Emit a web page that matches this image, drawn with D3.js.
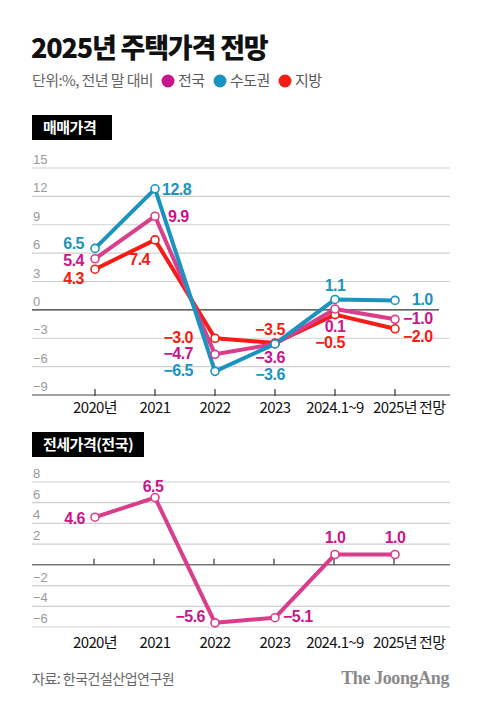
<!DOCTYPE html>
<html>
<head>
<meta charset="utf-8">
<script src="https://cdn.jsdelivr.net/npm/d3@7"></script>
<style>
  body { margin: 0; background: #fff; }
  svg { display: block; }
  text { font-family: "Liberation Sans", "Noto Sans CJK KR", sans-serif; }
  .kr { font-family: "Noto Sans CJK KR", sans-serif; }
  .serif { font-family: "Liberation Serif", "DejaVu Serif", serif; }
</style>
</head>
<body>
<svg id="chart" width="480" height="706"></svg>
<script>
// ---------- data ----------
const categories = ["2020년", "2021", "2022", "2023", "2024.1~9", "2025년 전망"];
const seriesNames = ["전국", "수도권", "지방"];
const saleNational = [5.4, 9.9, -4.7, -3.6, 0.1, -1.0];
const saleCapital  = [6.5, 12.8, -6.5, -3.6, 1.1, 1.0];
const saleLocal    = [4.3, 7.4, -3.0, -3.5, -0.5, -2.0];
const jeonseNational = [4.6, 6.5, -5.6, -5.1, 1.0, 1.0];
const topTicks = [-9, -6, -3, 0, 3, 6, 9, 12, 15];
const bottomTicks = [-6, -4, -2, 0, 2, 4, 6, 8];

// ---------- styling / label placement (not data) ----------
const colors = {
  nationalLine: "#d93d8b", nationalText: "#c8168c",
  capital: "#1a93bf", local: "#f41c14"
};
// [anchor, dx, dy] per point
const placeNational = [["end",-11,7],["start",13,6],["end",-22,5],["middle",-5,19],["middle",0,23],["start",8,5]];
const placeCapital  = [["end",-11,1],["start",7,6],["end",-22,5],["middle",-5,36],["middle",0,-8],["start",17,5]];
const placeLocal    = [["end",-11,15],["end",-5,25],["end",-22,5],["middle",-5,-8],["middle",-5,33],["start",8,13]];
const placeJeonse   = [["end",-10,7],["middle",-2,-6],["end",-10,-1],["start",8,4],["middle",0,-12],["middle",0,-12]];

const fmt = v => (v < 0 ? "\u2212" + Math.abs(v).toFixed(1) : v.toFixed(1));
const fmtTick = v => (v < 0 ? "\u2212" + Math.abs(v) : String(v));

const svg = d3.select("#chart");

// ---------- header ----------
svg.append("text").attr("class", "kr").attr("x", 31).attr("y", 58)
  .attr("font-size", 27).attr("font-weight", 900).attr("letter-spacing", -1.2)
  .attr("fill", "#111").text("2025년 주택가격 전망");

svg.append("text").attr("class", "kr").attr("x", 32).attr("y", 86)
  .attr("font-size", 15).attr("fill", "#666").attr("letter-spacing", -0.6)
  .text("단위:%, 전년 말 대비");

const legendItems = [
  {name: seriesNames[0], color: colors.nationalText, x: 168},
  {name: seriesNames[1], color: colors.capital, x: 220},
  {name: seriesNames[2], color: colors.local, x: 285}
];
const lg = svg.append("g");
legendItems.forEach(d => {
  lg.append("circle").attr("cx", d.x).attr("cy", 81).attr("r", 6.5).attr("fill", d.color);
  lg.append("text").attr("class", "kr").attr("x", d.x + 10).attr("y", 86)
    .attr("font-size", 15).attr("fill", "#5a5a5a").attr("letter-spacing", -0.6).text(d.name);
});

function sectionLabel(txt, y, w) {
  svg.append("rect").attr("x", 32).attr("y", y).attr("width", w).attr("height", 25).attr("fill", "#000");
  svg.append("text").attr("class", "kr").attr("x", 43).attr("y", y + 18)
    .attr("font-size", 15).attr("font-weight", 700).attr("fill", "#fff").attr("letter-spacing", -0.5).text(txt);
}
sectionLabel("매매가격", 115, 80);
sectionLabel("전세가격(전국)", 432, 112);

// ---------- scales ----------
const x = d3.scalePoint().domain(categories).range([95, 395]);
const yTop = d3.scaleLinear().domain([-9, 15]).range([395, 168]);
const yBot = d3.scaleLinear().domain([-6, 8]).range([627, 482]);

function xLabels(yPos) {
  const g = svg.append("g");
  categories.forEach((c, i) => {
    if (c === "2025년 전망") {
      const t1 = g.append("text").attr("class", "kr").attr("x", x(c)).attr("y", yPos)
        .attr("text-anchor", "middle").attr("font-size", 15).attr("fill", "#111")
        .attr("letter-spacing", -0.6).text("2025년");
      const w = t1.node().getComputedTextLength();
      g.append("text").attr("class", "kr").attr("x", x(c) + w / 2 + 2).attr("y", yPos)
        .attr("font-size", 15).attr("fill", "#111").attr("letter-spacing", -0.6).text("전망");
    } else {
      g.append("text").attr("class", "kr").attr("x", x(c)).attr("y", yPos)
        .attr("text-anchor", "middle").attr("font-size", 15).attr("fill", "#111")
        .attr("letter-spacing", -0.6).text(c);
    }
  });
}

// ---------- top chart ----------
const topG = svg.append("g");
topTicks.forEach(t => {
  let stroke = "#d0d0d0", x2 = 450;
  if (t === 0) { stroke = "#333"; x2 = 439; }
  if (t === -9) { stroke = "#444"; }
  topG.append("line").attr("x1", 32).attr("x2", x2).attr("y1", yTop(t)).attr("y2", yTop(t))
    .attr("stroke", stroke).attr("stroke-width", 1.2);
  topG.append("text").attr("x", 33).attr("y", yTop(t) - 4).attr("font-size", 13)
    .attr("fill", "#999").text(fmtTick(t));
});
categories.forEach(c => {
  topG.append("line").attr("x1", x(c)).attr("x2", x(c)).attr("y1", 389).attr("y2", 396)
    .attr("stroke", "#333").attr("stroke-width", 1.2);
});
xLabels(413);

const line = y => d3.line().x((d, i) => x(categories[i])).y(d => y(d));

const topSeries = [
  {vals: saleLocal, line: colors.local, text: colors.local, place: placeLocal},
  {vals: saleNational, line: colors.nationalLine, text: colors.nationalText, place: placeNational},
  {vals: saleCapital, line: colors.capital, text: colors.capital, place: placeCapital}
];
topSeries.forEach(s => {
  topG.append("path").datum(s.vals).attr("d", line(yTop)).attr("fill", "none")
    .attr("stroke", s.line).attr("stroke-width", 4).attr("stroke-linejoin", "round");
});
topSeries.forEach(s => {
  topG.selectAll(null).data(s.vals).join("circle")
    .attr("cx", (d, i) => x(categories[i])).attr("cy", d => yTop(d)).attr("r", 4)
    .attr("fill", "#fff").attr("stroke", s.line).attr("stroke-width", 1.6);
});
topSeries.forEach(s => {
  topG.selectAll(null).data(s.vals).join("text")
    .attr("x", (d, i) => x(categories[i]) + s.place[i][1])
    .attr("y", (d, i) => yTop(d) + s.place[i][2])
    .attr("text-anchor", (d, i) => s.place[i][0])
    .attr("font-size", 16).attr("font-weight", 700).attr("letter-spacing", -0.5)
    .attr("fill", s.text).text(d => fmt(d));
});

// ---------- bottom chart ----------
const botG = svg.append("g");
bottomTicks.forEach(t => {
  let stroke = "#d0d0d0";
  if (t === 0) stroke = "#777";
  botG.append("line").attr("x1", 32).attr("x2", 450).attr("y1", yBot(t)).attr("y2", yBot(t))
    .attr("stroke", stroke).attr("stroke-width", t === 0 ? 1.5 : 1.2);
  if (t !== 0) {
    botG.append("text").attr("x", 33).attr("y", yBot(t) - 4).attr("font-size", 13)
      .attr("fill", "#999").text(fmtTick(t));
  }
});
categories.forEach(c => {
  botG.append("line").attr("x1", x(c) - 1).attr("x2", x(c) - 1).attr("y1", yBot(0) - 6).attr("y2", yBot(0))
    .attr("stroke", "#333").attr("stroke-width", 1.2);
});
xLabels(648);

botG.append("path").datum(jeonseNational).attr("d", line(yBot)).attr("fill", "none")
  .attr("stroke", colors.nationalLine).attr("stroke-width", 4).attr("stroke-linejoin", "round");
botG.selectAll(null).data(jeonseNational).join("circle")
  .attr("cx", (d, i) => x(categories[i])).attr("cy", d => yBot(d)).attr("r", 4)
  .attr("fill", "#fff").attr("stroke", colors.nationalLine).attr("stroke-width", 1.6);
botG.selectAll(null).data(jeonseNational).join("text")
  .attr("x", (d, i) => x(categories[i]) + placeJeonse[i][1])
  .attr("y", (d, i) => yBot(d) + placeJeonse[i][2])
  .attr("text-anchor", (d, i) => placeJeonse[i][0])
  .attr("font-size", 16).attr("font-weight", 700).attr("letter-spacing", -0.5)
  .attr("fill", colors.nationalText).text(d => fmt(d));

// ---------- footer ----------
svg.append("text").attr("class", "kr").attr("x", 32).attr("y", 684)
  .attr("font-size", 14).attr("fill", "#666").attr("letter-spacing", -0.5)
  .text("자료: 한국건설산업연구원");
svg.append("text").attr("class", "serif").attr("x", 449).attr("y", 684).attr("text-anchor", "end")
  .attr("font-size", 18).attr("font-weight", 700).attr("fill", "#8a8a8a").attr("letter-spacing", -0.4)
  .text("The JoongAng");
</script>
</body>
</html>
